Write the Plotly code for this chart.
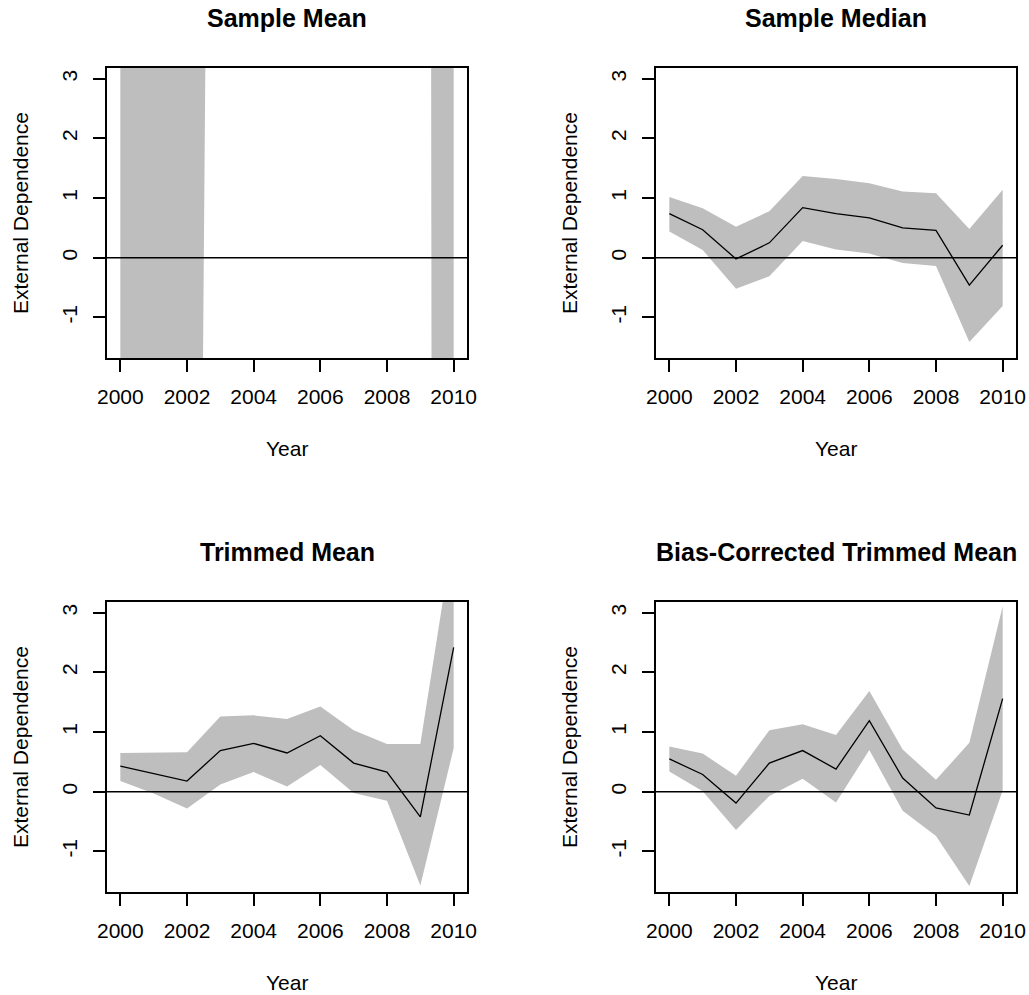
import plotly.graph_objects as go

years = [2000, 2001, 2002, 2003, 2004, 2005, 2006, 2007, 2008, 2009, 2010]

# Sample Mean (estimates and bands mostly outside the visible range)
mean_est = [12.5, 9.8, 4.6, 58.3, 71.2, 64.5, 80.1, 75.4, 69.0, 240.0, 120.0]
mean_lo = [-14.2, -18.5, -35.3, 34.7, 40.1, 36.8, 45.2, 42.0, 38.5, 161.0, -325.0]
mean_hi = [39.2, 38.1, 44.5, 82.0, 102.3, 92.2, 115.0, 108.8, 99.5, 320.0, 565.0]

# Sample Median
med_est = [0.74, 0.47, -0.02, 0.25, 0.84, 0.74, 0.67, 0.50, 0.46, -0.46, 0.21]
med_lo = [0.44, 0.13, -0.52, -0.31, 0.28, 0.14, 0.07, -0.09, -0.14, -1.41, -0.81]
med_hi = [1.02, 0.83, 0.52, 0.78, 1.37, 1.32, 1.25, 1.11, 1.08, 0.48, 1.14]

# Trimmed Mean
trim_est = [0.43, 0.30, 0.18, 0.69, 0.81, 0.65, 0.94, 0.48, 0.33, -0.42, 2.42]
trim_lo = [0.18, -0.03, -0.28, 0.12, 0.33, 0.09, 0.45, -0.02, -0.15, -1.57, 0.73]
trim_hi = [0.65, 0.66, 0.66, 1.26, 1.28, 1.22, 1.43, 1.03, 0.80, 0.80, 4.35]

# Bias-Corrected Trimmed Mean
bc_est = [0.55, 0.29, -0.19, 0.48, 0.69, 0.38, 1.19, 0.23, -0.27, -0.39, 1.56]
bc_lo = [0.34, 0.01, -0.64, -0.07, 0.22, -0.18, 0.70, -0.32, -0.74, -1.58, 0.02]
bc_hi = [0.76, 0.64, 0.27, 1.03, 1.13, 0.95, 1.69, 0.71, 0.20, 0.82, 3.11]

titles = ["Sample Mean", "Sample Median", "Trimmed Mean", "Bias-Corrected Trimmed Mean"]
x_ticks = [2000, 2002, 2004, 2006, 2008, 2010]
y_ticks = [-1, 0, 1, 2, 3]
x_label = "Year"
y_label = "External Dependence"

panels = [
    (mean_est, mean_lo, mean_hi),
    (med_est, med_lo, med_hi),
    (trim_est, trim_lo, trim_hi),
    (bc_est, bc_lo, bc_hi),
]

W, H = 1029, 995
# plot boxes in pixels: (left, right, top, bottom)
boxes = [
    (107, 467, 68, 358),
    (656, 1016, 68, 358),
    (107, 467, 602, 892),
    (656, 1016, 602, 892),
]

FONT = "Arial, Liberation Sans, sans-serif"
fig = go.Figure()
layout = dict(
    width=W, height=H,
    margin=dict(l=0, r=0, t=0, b=0, autoexpand=False),
    paper_bgcolor="white", plot_bgcolor="white",
    showlegend=False,
    font=dict(family=FONT, color="black"),
)
annotations = []
shapes = []

for i, ((est, lo, hi), box) in enumerate(zip(panels, boxes)):
    n = i + 1
    xa = "x" if n == 1 else f"x{n}"
    ya = "y" if n == 1 else f"y{n}"
    fig.add_trace(go.Scatter(
        x=years + years[::-1], y=hi + lo[::-1],
        fill="toself", fillcolor="#BEBEBE", mode="lines",
        line=dict(width=0, color="#BEBEBE"),
        xaxis=xa, yaxis=ya, hoverinfo="skip",
    ))
    fig.add_trace(go.Scatter(
        x=years, y=est, mode="lines",
        line=dict(color="black", width=1.3),
        xaxis=xa, yaxis=ya,
    ))
    l, r, t, b = box
    xdom = [l / W, r / W]
    ydom = [1 - b / H, 1 - t / H]
    axkw = dict(showline=True, mirror=True, linecolor="black", linewidth=1.5,
                ticks="outside", ticklen=12, tickwidth=1.5, tickcolor="black",
                showgrid=False, zeroline=False, automargin=False,
                tickfont=dict(size=21, family=FONT, color="black"))
    layout["xaxis" if n == 1 else f"xaxis{n}"] = dict(
        domain=xdom, range=[1999.6, 2010.4], anchor=ya,
        tickvals=x_ticks, ticktext=[str(v) for v in x_ticks],
        ticklabelstandoff=7, **axkw)
    layout["yaxis" if n == 1 else f"yaxis{n}"] = dict(
        domain=ydom, range=[-1.68, 3.18], anchor=xa,
        tickvals=y_ticks, ticktext=[str(v) for v in y_ticks], tickangle=-90,
        ticklabelstandoff=8, **axkw)
    shapes.append(dict(type="line", xref=f"{xa} domain", yref=ya,
                       x0=0, x1=1, y0=0, y1=0,
                       line=dict(color="black", width=1.5)))
    cx = (l + r) / 2 / W
    annotations.append(dict(text=f"<b>{titles[i]}</b>", x=cx, y=1 - (t - 50) / H,
                            xref="paper", yref="paper", showarrow=False,
                            xanchor="center", yanchor="middle",
                            font=dict(size=25, family=FONT, color="black")))
    annotations.append(dict(text=x_label, x=cx, y=1 - (b + 90) / H,
                            xref="paper", yref="paper", showarrow=False,
                            xanchor="center", yanchor="middle",
                            font=dict(size=21, family=FONT, color="black")))
    annotations.append(dict(text=y_label, x=(l - 87) / W, y=1 - (t + b) / 2 / H,
                            xref="paper", yref="paper", showarrow=False, textangle=-90,
                            xanchor="center", yanchor="middle",
                            font=dict(size=21, family=FONT, color="black")))

layout["annotations"] = annotations
layout["shapes"] = shapes
fig.update_layout(**layout)
fig.write_html("out.html", config={"displayModeBar": False},
               post_script="document.body.style.margin='0';")
